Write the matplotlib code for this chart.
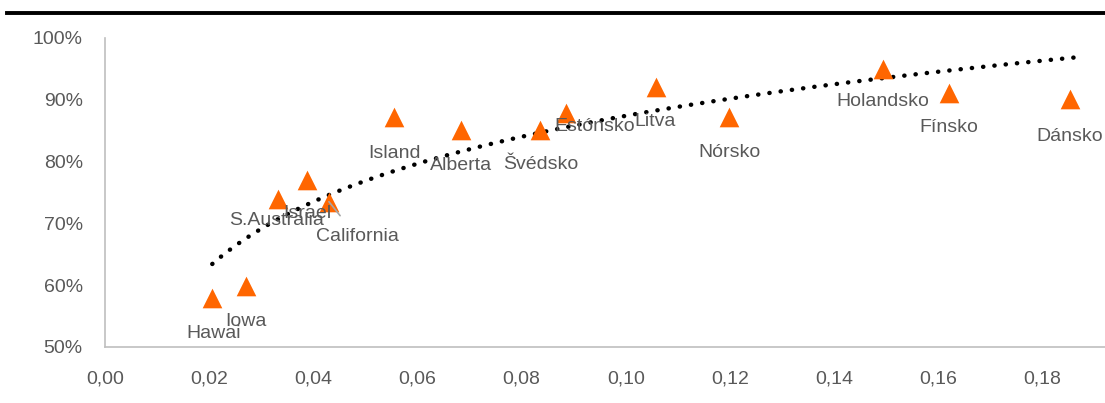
import numpy as np
import matplotlib
matplotlib.use("Agg")
import matplotlib.pyplot as plt
from matplotlib.lines import Line2D
from matplotlib.ticker import FuncFormatter

# hodnoty odčítané z grafu
krajiny = ["Hawai", "Iowa", "S.Australia", "Israel", "California", "Island",
           "Alberta", "Švédsko", "Estónsko", "Litva", "Nórsko", "Holandsko",
           "Fínsko", "Dánsko"]
x_hodnoty = [0.0206, 0.0271, 0.0332, 0.0388, 0.0430, 0.0555, 0.0684,
             0.0836, 0.0886, 0.1057, 0.1199, 0.1494, 0.1620, 0.1852]
y_hodnoty = [0.579, 0.599, 0.739, 0.770, 0.735, 0.872, 0.851, 0.851,
             0.879, 0.921, 0.872, 0.950, 0.911, 0.901]
# posun popisov v pixeloch
posuny = [(1, -35), (0, -36), (-1, -21), (0, -33), (28, -35), (0, -36),
          (0, -36), (0, -35), (28, -14), (0, -35), (0, -35), (0, -33),
          (0, -35), (0, -37)]

plt.rcParams['font.family'] = ['Liberation Sans', 'DejaVu Sans']
seda = "#595959"

fig = plt.figure(figsize=(11.05, 4.03), dpi=100)
ax = fig.add_axes([0.095, 0.139, 0.905, 0.767])

ax.scatter(x_hodnoty, y_hodnoty, marker="^", s=200, color="#FF6600",
           linewidths=0, zorder=3)

# logaritmická trendová čiara
b, a = np.polyfit(np.log(x_hodnoty), y_hodnoty, 1)
xt = np.linspace(min(x_hodnoty), max(x_hodnoty) + 0.002, 200)
ax.plot(xt, a + b * np.log(xt), color="black", lw=3.2,
        linestyle=(0, (0.05, 2.5)), dash_capstyle="round", zorder=2)

for meno, x, y, (dx, dy) in zip(krajiny, x_hodnoty, y_hodnoty, posuny):
    props = None
    if meno == "California":
        props = dict(arrowstyle="-", color="#a6a6a6", lw=1.2,
                     shrinkA=9, shrinkB=0)
    ax.annotate(meno, (x, y), xytext=(dx, dy), textcoords="offset pixels",
                ha="center", va="center", fontsize=14, color=seda,
                arrowprops=props, zorder=4)

ax.set_xlim(0, 0.192)
ax.set_ylim(0.5, 1.0)
ax.set_xticks(np.arange(0, 0.181, 0.02))
ax.set_yticks(np.arange(0.5, 1.001, 0.1))
ax.xaxis.set_major_formatter(FuncFormatter(lambda v, p: f"{v:.2f}".replace(".", ",")))
ax.yaxis.set_major_formatter(FuncFormatter(lambda v, p: f"{v*100:.0f}%"))
ax.tick_params(length=0, labelsize=14, colors=seda)
ax.tick_params(axis="x", pad=17)
ax.tick_params(axis="y", pad=16)
for s in ["top", "right"]:
    ax.spines[s].set_visible(False)
for s in ["left", "bottom"]:
    ax.spines[s].set_color("#bfbfbf")
    ax.spines[s].set_linewidth(1.2)

# čiara pod nadpisom
fig.add_artist(Line2D([0.006, 1.0], [0.967, 0.967], color="black", lw=2.8,
                      transform=fig.transFigure))

fig.savefig("out.png", dpi=100)
